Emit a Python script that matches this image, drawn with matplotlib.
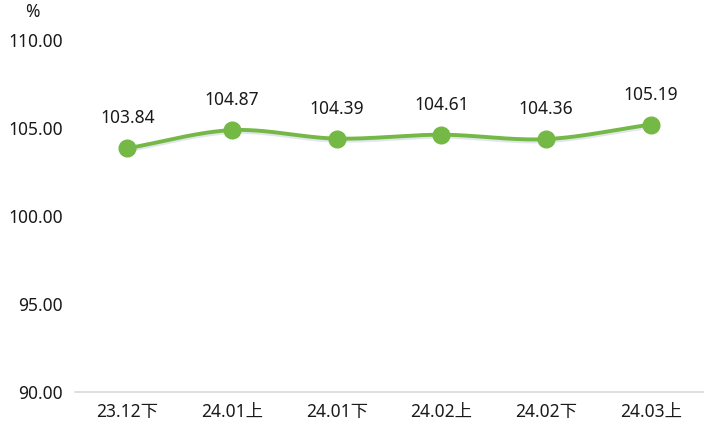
import numpy as np
import matplotlib.pyplot as plt
import matplotlib.patheffects as pe

plt.rcParams['font.family'] = ['Noto Sans', 'Noto Sans CJK SC', 'DejaVu Sans']

# data
categories = ['23.12下', '24.01上', '24.01下', '24.02上', '24.02下', '24.03上']
values = [103.84, 104.87, 104.39, 104.61, 104.36, 105.19]
yticks = [90, 95, 100, 105, 110]

green = '#74B845'
fs = 12.5

def smooth(xs, ys, n=30):
    # catmull-rom curve through the points (drawing only)
    xs = np.asarray(xs, float)
    ys = np.asarray(ys, float)
    px = np.concatenate([[2 * xs[0] - xs[1]], xs, [2 * xs[-1] - xs[-2]]])
    py = np.concatenate([[2 * ys[0] - ys[1]], ys, [2 * ys[-1] - ys[-2]]])
    ox, oy = [], []
    t = np.linspace(0, 1, n)
    for i in range(1, len(px) - 2):
        for p, out in ((px, ox), (py, oy)):
            p0, p1, p2, p3 = p[i - 1], p[i], p[i + 1], p[i + 2]
            seg = 0.5 * (2 * p1 + (-p0 + p2) * t + (2 * p0 - 5 * p1 + 4 * p2 - p3) * t ** 2
                         + (-p0 + 3 * p1 - 3 * p2 + p3) * t ** 3)
            out.extend(seg)
    return np.array(ox), np.array(oy)

x = np.arange(len(categories))
sx, sy = smooth(x, values)

fig = plt.figure(figsize=(7.08, 4.42), dpi=100)
ax = fig.add_axes([0.106, 0.113, 0.887, 0.797])

ax.plot(sx, sy, color=green, lw=2.8, solid_capstyle='round',
        path_effects=[pe.SimpleLineShadow(offset=(0, -1.5), shadow_color='#8899bb', alpha=0.25), pe.Normal()])
ax.plot(x, values, 'o', color=green, ms=12, zorder=3)

for xi, v in zip(x, values):
    ax.annotate(f'{v:.2f}', (xi, v), xytext=(0, 15), textcoords='offset points',
                ha='center', va='bottom', fontsize=fs, color='#1a1a1a')

ax.set_xlim(-0.5, len(categories) - 0.5)
ax.set_ylim(90, 110)
ax.set_yticks(yticks)
ax.set_yticklabels([f'{t:.2f}' for t in yticks], fontsize=fs, color='#1a1a1a')
ax.set_xticks(x)
ax.set_xticklabels(categories, fontsize=fs, color='#1a1a1a')
ax.tick_params(axis='both', length=0)
ax.tick_params(axis='y', pad=9)
ax.tick_params(axis='x', pad=8)

for s in ['top', 'right', 'left']:
    ax.spines[s].set_visible(False)
ax.spines['bottom'].set_color('#d9d9d9')
ax.spines['bottom'].set_linewidth(1.2)

fig.text(0.046, 0.972, '%', fontsize=fs, ha='center', va='center', color='#1a1a1a')

fig.savefig('out.png', dpi=100)
